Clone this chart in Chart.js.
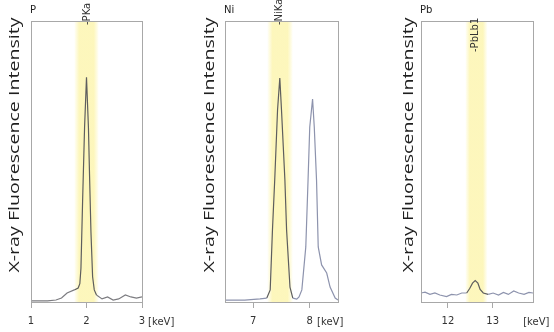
<!DOCTYPE html>
<html>
<head>
<meta charset="utf-8">
<script src="https://cdn.jsdelivr.net/npm/chart.js@4"></script>
<style>
    body { margin: 0; background: #fff; }
    #wrap { position: relative; width: 554px; height: 332px; }
    canvas { position: absolute; top: 0; }
</style>
</head>
<body>
<div id="wrap">
    <canvas id="panel0" width="185" height="332" style="left:0px"></canvas>
    <canvas id="panel1" width="185" height="332" style="left:185px"></canvas>
    <canvas id="panel2" width="184" height="332" style="left:370px"></canvas>
</div>
<script>
// spectrum data (energy in keV, intensity in % of full scale)
const pEnergy = [1.00, 1.30, 1.45, 1.55, 1.65, 1.78, 1.85, 1.88, 1.90, 1.93, 1.965, 2.00, 2.035, 2.055, 2.08, 2.11, 2.14, 2.18, 2.28, 2.38, 2.48, 2.58, 2.70, 2.80, 2.90, 3.00];
const pIntensity = [0.4, 0.4, 0.7, 1.4, 3.2, 4.3, 5.0, 6.5, 12, 36, 62, 80, 62, 45, 25, 9, 4.3, 2.5, 1.1, 1.8, 0.7, 1.1, 2.5, 1.8, 1.4, 1.8];

const niEnergy = [6.50, 6.85, 7.12, 7.24, 7.30, 7.34, 7.38, 7.43, 7.47, 7.50, 7.56, 7.59, 7.65, 7.70, 7.77, 7.81, 7.86, 7.93, 7.97, 8.00, 8.05, 8.08, 8.12, 8.15, 8.21, 8.30, 8.36, 8.45, 8.50];
const niIntensity = [0.7, 0.7, 1.1, 1.4, 4.3, 25.6, 43.4, 68.3, 79.7, 68.3, 43.4, 25.6, 5.3, 1.4, 1.0, 1.8, 4.3, 19.6, 43.4, 62.3, 72.2, 62.3, 43.4, 19.6, 13.2, 10.3, 5.3, 1.4, 0.7];

const pbEnergy = [11.40, 11.49, 11.60, 11.71, 11.82, 11.97, 12.08, 12.20, 12.31, 12.42, 12.49, 12.55, 12.61, 12.67, 12.72, 12.79, 12.90, 13.01, 13.13, 13.24, 13.35, 13.47, 13.58, 13.70, 13.81, 13.90];
const pbIntensity = [3.2, 3.5, 2.7, 3.2, 2.5, 1.9, 2.7, 2.5, 3.2, 3.2, 4.9, 6.7, 7.6, 6.7, 4.5, 3.2, 2.7, 3.2, 2.5, 3.4, 2.7, 3.9, 3.2, 2.7, 3.4, 3.2];

const elements = ['P', 'Ni', 'Pb'];
const lineLabels = ['-PKa', '-NiKa', '-PbLb1'];
const lineEnergies = [2.01, 7.47, 12.61];
const bandRanges = [[1.78, 2.22], [7.25, 7.70], [12.39, 12.88]];
const xRanges = [[1, 3], [6.5, 8.5], [11.4, 13.9]];
const xTicks = [[1, 2, 3], [7, 8], [12, 13]];
const unitPos = [3.11, 8.13, 13.68];
const yTitle = 'X-ray Fluorescence Intensity';

const energies = [pEnergy, niEnergy, pbEnergy];
const intensities = [pIntensity, niIntensity, pbIntensity];

// layout of each canvas
const paddings = [
    {left: 31, right: 43, top: 21, bottom: 0},
    {left: 40, right: 32, top: 21, bottom: 0},
    {left: 51, right: 21, top: 21, bottom: 0},
];
const titleX = [15.5, 25, 39.5];
const labelY = [25, 25, 52];

const SMALL_FONT = '10px "DejaVu Sans"';

// yellow window around the analysed line + frame + texts
const decorPlugin = {
    id: 'decor',
    beforeDatasetsDraw(chart, args, o) {
        const ctx = chart.ctx;
        const area = chart.chartArea;
        const xs = chart.scales.x;
        const x0 = xs.getPixelForValue(o.band[0]);
        const x1 = xs.getPixelForValue(o.band[1]);
        const g = ctx.createLinearGradient(x0, 0, x1, 0);
        g.addColorStop(0, 'rgba(252,243,160,0.05)');
        g.addColorStop(0.2, 'rgba(252,243,160,0.7)');
        g.addColorStop(0.8, 'rgba(252,243,160,0.7)');
        g.addColorStop(1, 'rgba(252,243,160,0.05)');
        ctx.save();
        ctx.fillStyle = g;
        ctx.fillRect(x0, area.top, x1 - x0, area.bottom - area.top);
        ctx.restore();
    },
    afterDraw(chart, args, o) {
        const ctx = chart.ctx;
        const area = chart.chartArea;
        const xs = chart.scales.x;
        ctx.save();
        ctx.strokeStyle = '#a8a8a8';
        ctx.lineWidth = 1;
        ctx.strokeRect(Math.round(area.left) + 0.5, Math.round(area.top) + 0.5,
            Math.round(area.right - area.left), Math.round(area.bottom - area.top));

        // element name
        ctx.fillStyle = '#222';
        ctx.font = SMALL_FONT;
        ctx.textAlign = 'left';
        ctx.textBaseline = 'middle';
        ctx.fillText(o.element, area.left - 1, 10);

        // unit after the last tick
        ctx.fillStyle = '#333';
        ctx.textBaseline = 'top';
        ctx.fillText('[keV]', xs.getPixelForValue(o.unit), area.bottom + 15);

        // line marker label
        const lx = xs.getPixelForValue(o.line);
        ctx.save();
        ctx.translate(lx, o.labelY);
        ctx.rotate(-Math.PI / 2);
        ctx.fillStyle = '#333';
        ctx.textBaseline = 'middle';
        ctx.fillText(o.lineLabel, 0, 0);
        ctx.restore();

        // axis title, stretched like the original
        ctx.save();
        ctx.translate(o.titleX, 145);
        ctx.rotate(-Math.PI / 2);
        ctx.font = '14px "Open Sans"';
        const w = ctx.measureText(yTitle).width;
        ctx.scale(255 / w, 1);
        ctx.fillStyle = '#1e1e1e';
        ctx.textAlign = 'center';
        ctx.textBaseline = 'middle';
        ctx.fillText(yTitle, 0, 0);
        ctx.restore();
        ctx.restore();
    }
};

function MakePanel(i) {
    const ctx = document.getElementById('panel' + i).getContext('2d');
    const band = bandRanges[i];
    const points = energies[i].map((e, k) => ({x: e, y: intensities[i][k]}));
    const inBand = (c) => {
        const a = c.p0.parsed.x, b = c.p1.parsed.x;
        return (a >= band[0] - 0.03 && b <= band[1] + 0.03) ? '#5e5e5e' : (i === 0 ? '#7c7c80' : '#8d93ad');
    };
    new Chart(ctx, {
        type: 'line',
        data: {
            datasets: [{
                data: points,
                borderColor: '#6a6a6a',
                borderWidth: 1.2,
                pointRadius: 0,
                tension: 0,
                fill: false,
                segment: {borderColor: inBand}
            }]
        },
        options: {
            responsive: false,
            animation: false,
            events: [],
            layout: {padding: paddings[i]},
            plugins: {
                legend: {display: false},
                tooltip: {enabled: false},
                decor: {
                    band: band,
                    element: elements[i],
                    unit: unitPos[i],
                    line: lineEnergies[i],
                    lineLabel: lineLabels[i],
                    labelY: labelY[i],
                    titleX: titleX[i]
                }
            },
            scales: {
                x: {
                    type: 'linear',
                    min: xRanges[i][0],
                    max: xRanges[i][1],
                    afterBuildTicks: (axis) => { axis.ticks = xTicks[i].map(v => ({value: v})); },
                    afterFit: (axis) => { axis.height = 30; },
                    grid: {drawOnChartArea: false, drawTicks: true, tickLength: 6, color: '#a8a8a8'},
                    border: {display: true, color: '#a8a8a8'},
                    ticks: {
                        font: {family: 'DejaVu Sans', size: 10},
                        color: '#333',
                        padding: 7,
                        maxRotation: 0,
                        autoSkip: false
                    }
                },
                y: {
                    display: false,
                    min: 0,
                    max: 100
                }
            }
        },
        plugins: [decorPlugin]
    });
}

MakePanel(0);
MakePanel(1);
MakePanel(2);
</script>
</body>
</html>
